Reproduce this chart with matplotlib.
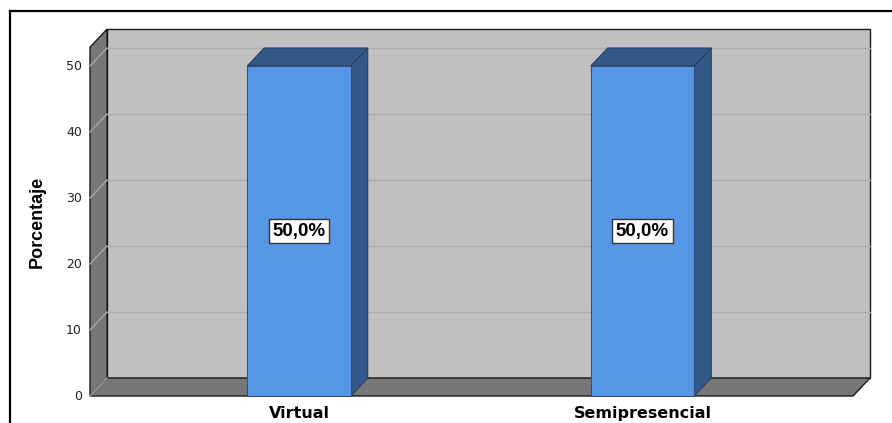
import matplotlib
matplotlib.use("Agg")
from matplotlib import pyplot as plt
from matplotlib.patches import Polygon

categories = ['Virtual', 'Semipresencial']
percentages = [50.0, 50.0]
value_labels = ['50,0%', '50,0%']
y_ticks = [0, 10, 20, 30, 40, 50]

# pixel -> data mapping of the reference (0 at y=396px, 6.6 px per %)
PX_X = 343.5   # px per category step
PX_Y = 6.6     # px per percent
x0_px, y0_px = 299.0, 396.0
W, H = 892, 423


def dx(px):
    return px / PX_X


def dy(px):
    return px / PX_Y


ymax = 52.85
depth_x, depth_y = dx(17), dy(18)
bar_w = dx(103.5)
left_x = dx(90 - x0_px)
right_x = dx(853 - x0_px)

fig = plt.figure(figsize=(W / 100, H / 100), dpi=100)
ax = fig.add_axes([0, 0, 1, 1])
ax.set_xlim(dx(-x0_px), dx(W - x0_px))
ax.set_ylim(dy(y0_px - H), dy(y0_px))
ax.axis('off')

wall_edge = dict(edgecolor='#1a1a1a', linewidth=1.0)
# back wall
ax.add_patch(Polygon([(left_x + depth_x, depth_y), (right_x + depth_x, depth_y),
                      (right_x + depth_x, ymax + depth_y), (left_x + depth_x, ymax + depth_y)],
                     closed=True, facecolor='#c0c0c0', **wall_edge, zorder=1))
# left wall
ax.add_patch(Polygon([(left_x, 0), (left_x + depth_x, depth_y),
                      (left_x + depth_x, ymax + depth_y), (left_x, ymax)],
                     closed=True, facecolor='#777777', **wall_edge, zorder=1))
# floor
ax.add_patch(Polygon([(left_x, 0), (right_x, 0), (right_x + depth_x, depth_y),
                      (left_x + depth_x, depth_y)],
                     closed=True, facecolor='#777777', **wall_edge, zorder=1))

# gridlines on back wall and slanted ones on the left wall
for t in y_ticks[1:]:
    ax.plot([left_x + depth_x, right_x + depth_x], [t + depth_y, t + depth_y],
            color='#acacac', lw=1.0, zorder=2)
for t in y_ticks:
    ax.plot([left_x, left_x + depth_x], [t, t + depth_y], color='#a8a8a8', lw=1.0, zorder=2)
    ax.text(dx(82 - x0_px), t, str(t), ha='right', va='center', fontsize=9,
            family='DejaVu Sans', color='#222222')

# 3d bars
for i, (cat, val, lab) in enumerate(zip(categories, percentages, value_labels)):
    xl, xr = i - bar_w / 2, i + bar_w / 2
    ax.add_patch(Polygon([(xr, 0), (xr + depth_x, depth_y), (xr + depth_x, val + depth_y), (xr, val)],
                         closed=True, facecolor='#33598b', edgecolor='#2a3f5c', lw=0.8, zorder=3))
    ax.add_patch(Polygon([(xl, val), (xr, val), (xr + depth_x, val + depth_y), (xl + depth_x, val + depth_y)],
                         closed=True, facecolor='#33598b', edgecolor='#2a3f5c', lw=0.8, zorder=3))
    ax.add_patch(Polygon([(xl, 0), (xr, 0), (xr, val), (xl, val)],
                         closed=True, facecolor='#5596e6', edgecolor='#3d4f66', lw=0.8, zorder=4))
    ax.text(i, val / 2, lab, ha='center', va='center', fontsize=13.5, fontweight='bold',
            family='Liberation Sans', color='black', zorder=5,
            bbox=dict(boxstyle='square,pad=0.2', facecolor='white', edgecolor='#333333', lw=1.0))
    ax.text(i, dy(-17), cat, ha='center', va='center', fontsize=11.5, fontweight='bold',
            family='DejaVu Sans', color='black')

ax.text(dx(37 - x0_px), ymax / 2, 'Porcentaje', rotation=90, ha='center', va='center',
        fontsize=13, fontweight='bold', family='Liberation Sans', color='black')

# outer frame (runs off the right and bottom edges)
fx, fy = dx(10 - x0_px), dy(y0_px - 11)
ax.plot([fx, dx(W + 20 - x0_px)], [fy, fy], color='black', lw=1.6, zorder=6)
ax.plot([fx, fx], [fy, dy(y0_px - H - 20)], color='black', lw=1.6, zorder=6)

fig.savefig('out.png', dpi=100)
